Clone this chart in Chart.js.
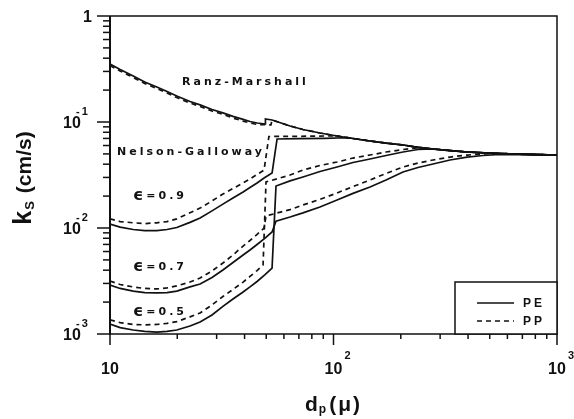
<!DOCTYPE html>
<html>
<head>
<meta charset="utf-8">
<script src="https://cdn.jsdelivr.net/npm/chart.js@4/dist/chart.umd.min.js"></script>
<style>
  html, body { margin: 0; padding: 0; background: #fff; }
  #c { display: block; }
</style>
</head>
<body>
<canvas id="c" width="574" height="419"></canvas>
<script>
// Mass-transfer coefficient k_S (cm/s) versus particle diameter d_p (micron)

// Ranz-Marshall correlation
const rmPEx = [10, 11.1, 12.7, 14.3, 16.2, 18.0, 19.9, 22.8, 25.3, 28.6, 32.0, 35.5, 39.4, 42.3, 45.5, 49.4, 49.6, 53.1, 63.9, 73.0, 87.0, 103.7, 122.3, 145.7, 171.8, 204.6, 238.8, 278.7, 332.1, 395.7, 555.9, 1000];
const rmPEy = [0.352, 0.313, 0.272, 0.238, 0.214, 0.194, 0.176, 0.156, 0.145, 0.131, 0.122, 0.113, 0.106, 0.101, 0.0979, 0.0958, 0.1067, 0.1044, 0.0917, 0.0849, 0.0787, 0.0738, 0.0699, 0.0662, 0.0633, 0.0607, 0.0577, 0.0556, 0.0538, 0.0521, 0.0504, 0.0488];
const rmPPx = [10, 11.1, 12.7, 14.3, 16.2, 18.0, 19.9, 22.8, 25.3, 28.6, 32.0, 35.5, 39.4, 42.3, 45.5, 52.5, 53.1, 63.9, 73.0, 87.0, 103.7, 122.3, 145.7, 171.8, 204.6, 238.8, 278.7, 332.1, 395.7, 555.9, 1000];
const rmPPy = [0.341, 0.303, 0.263, 0.231, 0.207, 0.188, 0.170, 0.151, 0.140, 0.127, 0.118, 0.109, 0.102, 0.0979, 0.0948, 0.0937, 0.1044, 0.0917, 0.0849, 0.0787, 0.0738, 0.0699, 0.0662, 0.0633, 0.0607, 0.0577, 0.0556, 0.0538, 0.0521, 0.0504, 0.0488];

// Nelson-Galloway, voidage 0.9
const e9PEx = [10, 11.1, 12.7, 14.3, 16.2, 18.0, 19.9, 22.8, 25.3, 28.6, 32.0, 35.5, 39.4, 42.3, 45.5, 48.9, 53.1, 55.9, 70.8, 91.6, 112.6, 122.3, 145.7, 171.8, 204.6, 238.8, 278.7, 332.1, 395.7, 555.9, 1000];
const e9PEy = [0.0109, 0.0102, 0.00968, 0.00946, 0.00946, 0.00968, 0.0101, 0.0113, 0.0124, 0.0145, 0.0168, 0.0192, 0.0219, 0.0241, 0.0266, 0.0296, 0.0330, 0.0691, 0.0696, 0.0702, 0.0710, 0.0699, 0.0662, 0.0633, 0.0607, 0.0577, 0.0556, 0.0538, 0.0521, 0.0504, 0.0488];
const e9PPx = [10, 11.1, 12.7, 14.3, 16.2, 18.0, 19.9, 22.8, 25.3, 28.6, 32.0, 35.5, 39.4, 42.3, 45.5, 48.9, 51.4, 70.8, 91.6, 103.7, 122.3, 145.7, 171.8, 204.6, 238.8, 278.7, 332.1, 395.7, 555.9, 1000];
const e9PPy = [0.0122, 0.0115, 0.0112, 0.0110, 0.0112, 0.0115, 0.0122, 0.0139, 0.0154, 0.0180, 0.0209, 0.0236, 0.0266, 0.0290, 0.0320, 0.0352, 0.0730, 0.0733, 0.0738, 0.0738, 0.0699, 0.0662, 0.0633, 0.0607, 0.0577, 0.0556, 0.0538, 0.0521, 0.0504, 0.0488];

// Nelson-Galloway, voidage 0.7
const e7PEx = [10, 11.1, 12.7, 14.3, 16.2, 18.0, 19.9, 22.8, 25.3, 28.6, 32.0, 35.5, 39.4, 42.3, 45.5, 49.4, 53.1, 55.3, 63.9, 73.0, 87.0, 103.7, 122.3, 145.7, 171.8, 204.6, 238.8, 278.7, 332.1, 395.7, 466.7, 555.9, 1000];
const e7PEy = [0.00290, 0.00269, 0.00254, 0.00246, 0.00244, 0.00246, 0.00254, 0.00278, 0.00296, 0.00341, 0.00402, 0.00473, 0.00556, 0.00620, 0.00699, 0.00804, 0.00917, 0.0116, 0.0127, 0.0139, 0.0158, 0.0184, 0.0212, 0.0244, 0.0284, 0.0338, 0.0372, 0.0402, 0.0438, 0.0467, 0.0483, 0.0494, 0.0488];
const e7PPx = [10, 11.1, 12.7, 14.3, 16.2, 18.0, 19.9, 22.8, 25.3, 28.6, 32.0, 35.5, 39.4, 42.3, 45.5, 48.9, 49.9, 52.0, 63.9, 73.0, 87.0, 103.7, 122.3, 145.7, 171.8, 204.6, 238.8, 278.7, 332.1, 395.7, 501.3, 1000];
const e7PPy = [0.00316, 0.00293, 0.00278, 0.00269, 0.00266, 0.00272, 0.00284, 0.00309, 0.00338, 0.00393, 0.00467, 0.00556, 0.00676, 0.00762, 0.00869, 0.0100, 0.0130, 0.0133, 0.0149, 0.0165, 0.0186, 0.0214, 0.0246, 0.0284, 0.0327, 0.0376, 0.0410, 0.0438, 0.0467, 0.0488, 0.0504, 0.0488];

// Nelson-Galloway, voidage 0.5
const e5PEx = [10, 11.1, 12.7, 14.3, 16.2, 18.0, 19.9, 22.8, 25.3, 28.6, 32.0, 35.5, 39.4, 42.3, 45.5, 49.4, 53.1, 55.3, 63.9, 73.0, 87.0, 103.7, 122.3, 145.7, 171.8, 204.6, 238.8, 278.7, 395.7, 555.9, 1000];
const e5PEy = [0.00124, 0.00115, 0.00109, 0.00106, 0.00104, 0.00106, 0.00109, 0.00119, 0.00130, 0.00151, 0.00182, 0.00214, 0.00249, 0.00278, 0.00313, 0.00364, 0.00419, 0.0249, 0.0278, 0.0303, 0.0341, 0.0376, 0.0415, 0.0448, 0.0483, 0.0521, 0.0550, 0.0556, 0.0521, 0.0504, 0.0488];
const e5PPx = [10, 11.1, 12.7, 14.3, 16.2, 18.0, 19.9, 22.8, 25.3, 28.6, 32.0, 35.5, 39.4, 42.3, 45.5, 48.4, 49.9, 63.9, 73.0, 87.0, 103.7, 122.3, 145.7, 171.8, 204.6, 243.8, 278.7, 332.1, 395.7, 555.9, 1000];
const e5PPy = [0.00136, 0.00128, 0.00123, 0.00122, 0.00123, 0.00126, 0.00131, 0.00145, 0.00158, 0.00188, 0.00226, 0.00263, 0.00309, 0.00349, 0.00397, 0.00448, 0.0272, 0.0316, 0.0352, 0.0389, 0.0419, 0.0457, 0.0488, 0.0521, 0.0550, 0.0575, 0.0556, 0.0538, 0.0521, 0.0504, 0.0488];

// Axis decades and their labels
const xDecades = [10, 100, 1000];
const xTickLabels = ['10', '10^2', '10^3'];
const yDecades = [0.001, 0.01, 0.1, 1];
const yTickLabels = ['10^-3', '10^-2', '10^-1', '1'];

// Curve captions, anchored in data coordinates
const captions = [
  { text: 'Ranz-Marshall',   x: 21.0,  y: 0.238 },
  { text: 'Nelson-Galloway', x: 10.75, y: 0.0521 },
  { text: '\u03F5=0.9',      x: 12.67, y: 0.0200 },
  { text: '\u03F5=0.7',      x: 12.67, y: 0.00429 },
  { text: '\u03F5=0.5',      x: 12.67, y: 0.00161 }
];

const legendLabels = ['PE', 'PP'];

const FONT = '"Liberation Sans", Arial, "DejaVu Sans", sans-serif';
const HEAVY = '"DejaVu Sans", "Liberation Sans", sans-serif';
const INK = '#111';

const curves = [
  [rmPEx, rmPEy, false], [rmPPx, rmPPy, true],
  [e9PEx, e9PEy, false], [e9PPx, e9PPy, true],
  [e7PEx, e7PEy, false], [e7PPx, e7PPy, true],
  [e5PEx, e5PEy, false], [e5PPx, e5PPy, true]
];

const datasets = curves.map(([xs, ys, dashed], i) => ({
  label: (dashed ? 'PP ' : 'PE ') + i,
  data: xs.map((v, k) => ({ x: v, y: ys[k] })),
  showLine: true,
  borderColor: INK,
  borderWidth: 1.7,
  borderDash: dashed ? [5, 4] : [],
  pointRadius: 0,
  tension: 0,
  fill: false
}));

function logTicks(lo, hi) {
  const out = [];
  for (let e = lo; e < hi; e++) {
    for (let m = 1; m < 10; m++) out.push({ value: m * Math.pow(10, e), major: m === 1 });
  }
  out.push({ value: Math.pow(10, hi), major: true });
  return out;
}

function drawPower(ctx, label, px, py, align) {
  const parts = label.split('^');
  ctx.textBaseline = 'alphabetic';
  ctx.font = 'bold 16px ' + FONT;
  ctx.letterSpacing = '0px';
  if (align === 'y') {
    if (parts.length === 1) {
      ctx.textAlign = 'right';
      ctx.fillText(parts[0], px - 18, py + 6);
      return;
    }
    ctx.textAlign = 'left';
    ctx.fillText(parts[0], px - 47, py + 6);
    ctx.font = 'bold 11px ' + FONT;
    ctx.letterSpacing = '2px';
    ctx.fillText(parts[1], px - 34, py - 7);
    ctx.letterSpacing = '0px';
  } else {
    ctx.textAlign = 'center';
    ctx.fillText(parts[0], px, py + 40);
    if (parts.length > 1) {
      ctx.textAlign = 'left';
      ctx.font = 'bold 11px ' + FONT;
      ctx.fillText(parts[1], px + 11, py + 25);
    }
  }
}

const decor = {
  id: 'decor',
  afterDatasetsDraw(chart) {
    const { ctx, chartArea: a, scales: { x, y } } = chart;
    ctx.save();
    ctx.strokeStyle = INK;
    ctx.fillStyle = INK;
    ctx.setLineDash([]);

    // frame
    ctx.lineWidth = 1.5;
    ctx.beginPath();
    ctx.moveTo(a.left, a.top);
    ctx.lineTo(a.right, a.top);
    ctx.lineTo(a.right, a.bottom);
    ctx.lineTo(a.left, a.bottom);
    ctx.stroke();
    ctx.lineWidth = 2;
    ctx.beginPath();
    ctx.moveTo(a.left, a.top);
    ctx.lineTo(a.left, a.bottom + 1);
    ctx.stroke();

    // tick marks
    ctx.lineWidth = 1.5;
    y.ticks.forEach(t => {
      const py = y.getPixelForValue(t.value);
      const len = t.major ? 13 : 7;
      ctx.beginPath();
      ctx.moveTo(a.left - len, py);
      ctx.lineTo(a.left, py);
      ctx.stroke();
    });
    x.ticks.forEach(t => {
      const px = x.getPixelForValue(t.value);
      const len = t.major ? 11 : 5;
      ctx.beginPath();
      ctx.moveTo(px, a.bottom);
      ctx.lineTo(px, a.bottom + len);
      ctx.stroke();
    });

    // tick labels
    yDecades.forEach((v, i) => drawPower(ctx, yTickLabels[i], a.left, y.getPixelForValue(v), 'y'));
    xDecades.forEach((v, i) => drawPower(ctx, xTickLabels[i], x.getPixelForValue(v), a.bottom, 'x'));

    // axis titles
    ctx.textAlign = 'left';
    ctx.textBaseline = 'alphabetic';
    ctx.letterSpacing = '0px';
    // vertical: k_S (cm/s)
    ctx.save();
    ctx.translate(31, (a.top + a.bottom) / 2 + 3);
    ctx.rotate(-Math.PI / 2);
    ctx.font = 'bold 25px ' + FONT;
    const wk = ctx.measureText('k').width;
    ctx.font = 'bold 13px ' + FONT;
    const ws = ctx.measureText('S').width;
    ctx.font = 'bold 21px ' + FONT;
    const wu = ctx.measureText('(cm/s)').width;
    const gap = 9;
    const sx = -(wk + ws + gap + wu) / 2;
    ctx.font = 'bold 25px ' + FONT;
    ctx.fillText('k', sx, 0);
    ctx.font = 'bold 13px ' + FONT;
    ctx.fillText('S', sx + wk + 1, 3);
    ctx.font = 'bold 21px ' + FONT;
    ctx.fillText('(cm/s)', sx + wk + ws + gap, 0);
    ctx.restore();

    // horizontal: d_p (mu)
    ctx.font = 'bold 21px ' + FONT;
    const wd = ctx.measureText('d').width;
    ctx.font = 'bold 12px ' + FONT;
    const wp = ctx.measureText('p').width;
    ctx.font = 'bold 21px ' + FONT;
    ctx.letterSpacing = '2px';
    const wm = ctx.measureText('(\u03BC)').width;
    const tx0 = (a.left + a.right) / 2 - (wd + wp + 4 + wm) / 2;
    ctx.letterSpacing = '0px';
    ctx.fillText('d', tx0, 411);
    ctx.font = 'bold 12px ' + FONT;
    ctx.fillText('p', tx0 + wd + 1, 413);
    ctx.font = 'bold 21px ' + FONT;
    ctx.letterSpacing = '2px';
    ctx.fillText('(\u03BC)', tx0 + wd + wp + 4, 411);
    ctx.letterSpacing = '0px';

    // curve captions
    ctx.textBaseline = 'middle';
    captions.forEach(c => {
      let cx = x.getPixelForValue(c.x);
      const cy = y.getPixelForValue(c.y);
      let rest = c.text;
      if (rest.charAt(0) === '\u03F5') {
        ctx.font = 'bold 16px ' + HEAVY;
        ctx.letterSpacing = '0px';
        ctx.fillText('\u03F5', cx, cy);
        cx += ctx.measureText('\u03F5').width + 3;
        rest = rest.slice(1);
      }
      ctx.font = 'bold 11px ' + HEAVY;
      ctx.letterSpacing = '3px';
      ctx.fillText(rest, cx, cy);
    });
    ctx.letterSpacing = '0px';

    // legend box in the lower right corner
    const bw = 102, bh = 52;
    const bx = a.right - bw, by = a.bottom - bh;
    ctx.fillStyle = '#fff';
    ctx.fillRect(bx, by, bw, bh);
    ctx.fillStyle = INK;
    ctx.lineWidth = 1.5;
    ctx.strokeRect(bx, by, bw, bh);
    ctx.font = 'bold 12px ' + FONT;
    ctx.letterSpacing = '3px';
    ctx.textBaseline = 'middle';
    legendLabels.forEach((lab, i) => {
      const ly = by + 21 + i * 18;
      ctx.lineWidth = 1.6;
      ctx.setLineDash(i === 0 ? [] : [5, 4]);
      ctx.beginPath();
      ctx.moveTo(bx + 22, ly);
      ctx.lineTo(bx + 59, ly);
      ctx.stroke();
      ctx.setLineDash([]);
      ctx.fillText(lab, bx + 68, ly + 1);
    });
    ctx.letterSpacing = '0px';
    ctx.restore();
  }
};

new Chart(document.getElementById('c'), {
  type: 'scatter',
  data: { datasets },
  options: {
    responsive: false,
    animation: false,
    devicePixelRatio: 1,
    layout: { padding: { left: 10, right: 17, top: 16, bottom: 0 } },
    plugins: { legend: { display: false }, tooltip: { enabled: false } },
    scales: {
      x: {
        type: 'logarithmic',
        min: 10, max: 1000,
        grid: { display: false },
        border: { display: false },
        ticks: { display: false },
        afterBuildTicks: s => { s.ticks = logTicks(1, 3); },
        afterFit: s => { s.height = 85; }
      },
      y: {
        type: 'logarithmic',
        min: 0.001, max: 1,
        grid: { display: false },
        border: { display: false },
        ticks: { display: false },
        afterBuildTicks: s => { s.ticks = logTicks(-3, 0); },
        afterFit: s => { s.width = 100; }
      }
    }
  },
  plugins: [decor]
});
</script>
</body>
</html>
